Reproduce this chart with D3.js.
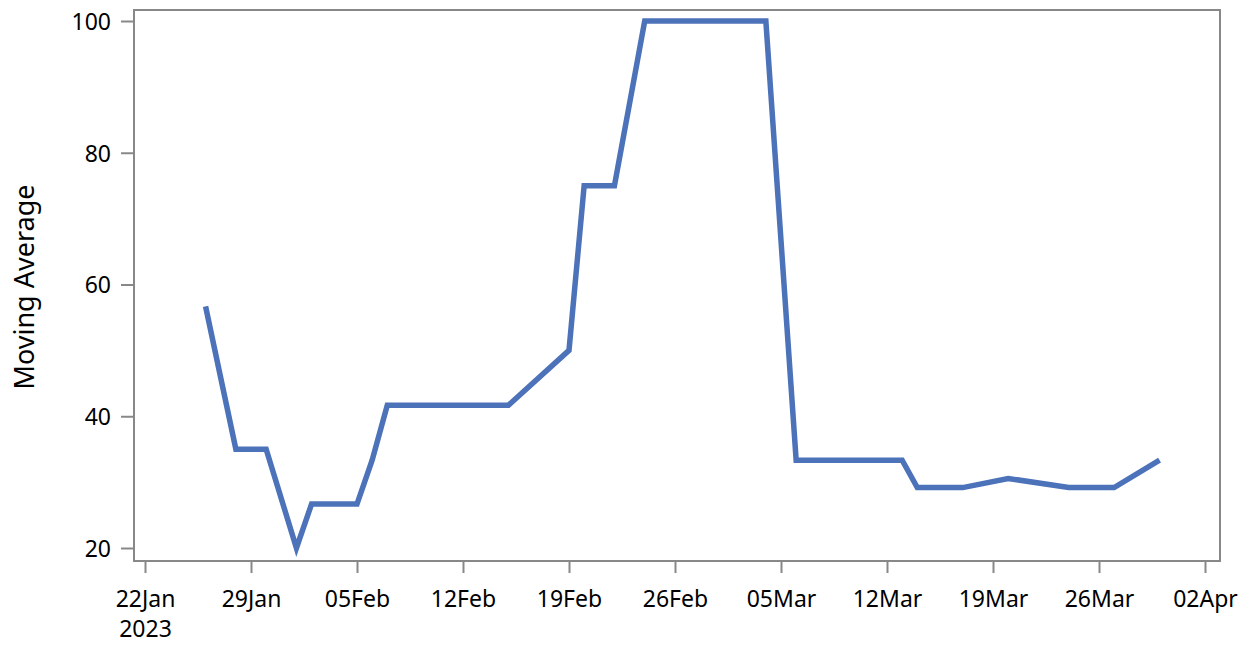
<!DOCTYPE html>
<html>
<head>
<meta charset="utf-8">
<script src="https://cdn.jsdelivr.net/npm/d3@7"></script>
<style>
  body { margin: 0; background: #fff; }
  text { font-family: "Noto Sans", sans-serif; fill: #000; }
</style>
</head>
<body>
<svg id="chart" width="1250" height="645"></svg>
<script>
// --- data ---
const dates = [
  "2023-01-26", "2023-01-28", "2023-01-30", "2023-02-01", "2023-02-02",
  "2023-02-05", "2023-02-06", "2023-02-07", "2023-02-15", "2023-02-19",
  "2023-02-20", "2023-02-22", "2023-02-24", "2023-03-04", "2023-03-06",
  "2023-03-13", "2023-03-14", "2023-03-17", "2023-03-20", "2023-03-24",
  "2023-03-27", "2023-03-30"
];
const movingAvg = [
  56.67, 35, 35, 20, 26.67,
  26.67, 33.33, 41.67, 41.67, 50,
  75, 75, 100, 100, 33.33,
  33.33, 29.17, 29.17, 30.56, 29.17,
  29.17, 33.33
];
const yTicks = [20, 40, 60, 80, 100];
const xTicks = [
  "2023-01-22", "2023-01-29", "2023-02-05", "2023-02-12", "2023-02-19",
  "2023-02-26", "2023-03-05", "2023-03-12", "2023-03-19", "2023-03-26", "2023-04-02"
];

const parse = d3.utcParse("%Y-%m-%d");
const data = dates.map((d, i) => ({ date: parse(d), value: movingAvg[i] }));

// --- layout ---
const svg = d3.select("#chart");
const frame = { left: 134, right: 1220, top: 10, bottom: 561 };
const axisColor = "#888";

const x = d3.scaleUtc()
  .domain([parse(xTicks[0]), parse(xTicks[xTicks.length - 1])])
  .range([145, 1205]);

const y = d3.scaleLinear()
  .domain([20, 100])
  .range([548, 21]);

// frame
svg.append("rect")
  .attr("x", frame.left)
  .attr("y", frame.top)
  .attr("width", frame.right - frame.left)
  .attr("height", frame.bottom - frame.top)
  .attr("fill", "none")
  .attr("stroke", axisColor)
  .attr("stroke-width", 2);

// y axis
const yAxis = svg.append("g")
  .attr("transform", `translate(${frame.left},0)`)
  .call(d3.axisLeft(y).tickValues(yTicks).tickSize(13).tickPadding(10));
yAxis.select(".domain").remove();
yAxis.selectAll(".tick line").attr("stroke", axisColor).attr("stroke-width", 2);
yAxis.selectAll(".tick text").attr("font-size", 23).attr("dy", "0.36em");

// x axis
const fmt = d3.utcFormat("%d%b");
const xAxis = svg.append("g")
  .attr("transform", `translate(0,${frame.bottom})`)
  .call(d3.axisBottom(x).tickValues(xTicks.map(parse)).tickSize(12).tickPadding(12).tickFormat(fmt));
xAxis.select(".domain").remove();
xAxis.selectAll(".tick line").attr("stroke", axisColor).attr("stroke-width", 2);
xAxis.selectAll(".tick text").attr("font-size", 23).attr("dy", "0.95em");
xAxis.select(".tick text")
  .append("tspan")
  .attr("x", 0)
  .attr("dy", "1.3em")
  .text("2023");

// y label
svg.append("text")
  .attr("transform", `translate(34,${287}) rotate(-90)`)
  .attr("text-anchor", "middle")
  .attr("font-family", "'Liberation Sans', Arial, sans-serif")
  .attr("font-size", 27)
  .text("Moving Average");

// line
const line = d3.line()
  .x(d => x(d.date))
  .y(d => y(d.value));

svg.append("path")
  .datum(data)
  .attr("fill", "none")
  .attr("stroke", "#4c72b9")
  .attr("stroke-width", 5.5)
  .attr("stroke-linejoin", "miter")
  .attr("d", line);
</script>
</body>
</html>
